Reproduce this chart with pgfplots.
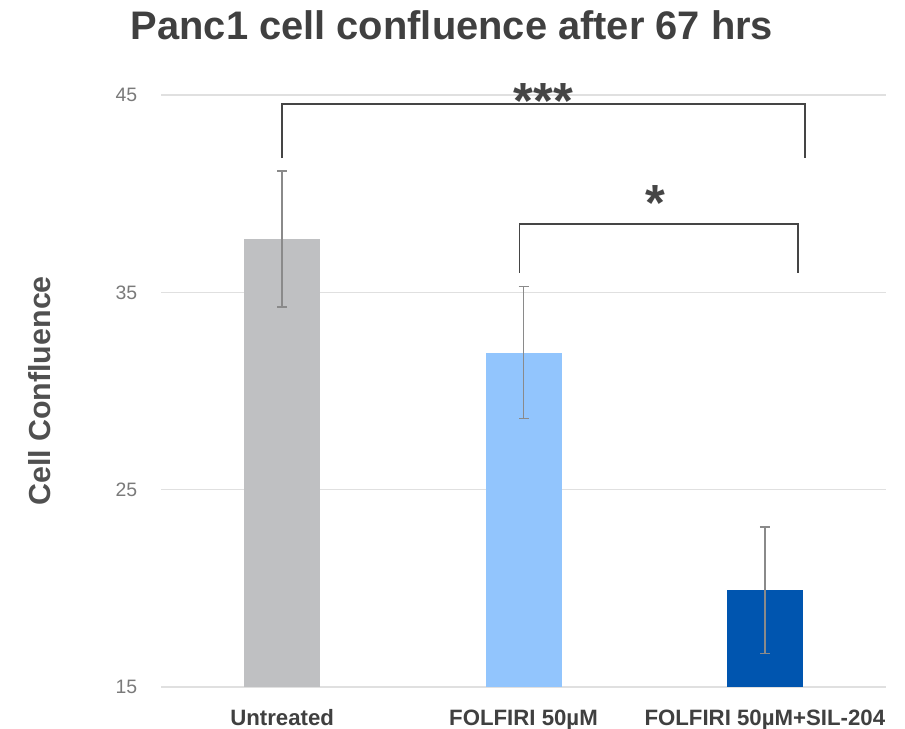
\documentclass[border=0pt]{standalone}
\usepackage{pgfplots}
\pgfplotsset{compat=1.18}
\usepackage{fontspec}
\setmainfont{Liberation Sans}
\definecolor{barGray}{HTML}{BFC0C2}
\definecolor{lightBlue}{HTML}{92C5FD}
\definecolor{darkBlue}{HTML}{0055AF}
\definecolor{gridc}{HTML}{E0E0E0}
\definecolor{tickc}{HTML}{7A7A7A}
\definecolor{titlec}{HTML}{404040}
\definecolor{ylabc}{HTML}{505050}
\definecolor{errc}{HTML}{8A8A8A}
\definecolor{brkc}{HTML}{454545}
\pgfplotsset{myerr/.style={error bars/.cd, y dir=both, y explicit, error mark=-,
  error bar style={draw=errc, line width=1.5bp},
  error mark options={draw=errc, line width=1.5bp, mark size=5bp, rotate=90}}}
\begin{document}
\begin{tikzpicture}
\useasboundingbox (-161.5bp,-42bp) rectangle (743.5bp,687bp);
\begin{axis}[
  scale only axis, width=724bp, height=592bp,
  xmin=-0.5, xmax=2.5, ymin=15, ymax=45,
  ytick={15,25,35,45},
  xtick={0,1,2},
  xticklabels={Untreated, FOLFIRI 50µM, FOLFIRI 50µM+SIL-204},
  ybar, bar width=76bp, bar shift=0pt,
  axis line style={draw=none},
  major tick length=0pt,
  ymajorgrids, grid style={color=gridc, line width=1.2bp},
  /pgf/number format/assume math mode=true,
  yticklabel style={font=\fontsize{19.5}{22}\selectfont, text=tickc, anchor=east, inner sep=0pt, xshift=-24bp},
  xticklabel style={font=\fontsize{22.3}{26}\selectfont\bfseries, text=titlec, anchor=base, inner sep=0pt, yshift=-38bp},
  ylabel={Cell Confluence},
  ylabel style={font=\fontsize{30.5}{34}\selectfont\bfseries, text=ylabc, at={(rel axis cs:0,0.5)}, anchor=center, rotate=0, yshift=121.5bp},
  title={Panc1 cell confluence after 67 hrs},
  title style={font=\fontsize{40}{46}\selectfont\bfseries, text=titlec, at={(rel axis cs:0.5,1)}, anchor=base, inner sep=0pt, yshift=50bp, xshift=-71.5bp},
]
\addplot[fill=barGray, draw=none, myerr]
  coordinates {(0,37.7) +- (0,3.45)};
\addplot[fill=lightBlue, draw=none, myerr]
  coordinates {(1,31.95) +- (0,3.35)};
\addplot[fill=darkBlue, draw=none, myerr]
  coordinates {(2,19.9) +- (0,3.2)};
\coordinate (p1) at (axis cs:0,41.8);
\coordinate (p2) at (axis cs:2.166,44.55);
\coordinate (p3) at (axis cs:2.166,41.8);
\coordinate (q1) at (axis cs:0.983,35.98);
\coordinate (q2) at (axis cs:2.137,38.47);
\coordinate (q3) at (axis cs:2.137,35.98);
\coordinate (s1) at (axis cs:1.083,43.8);
\coordinate (s2) at (axis cs:1.548,38.65);
\end{axis}
\draw[brkc, line width=1.6bp] (p1) |- (p2) -- (p3);
\draw[brkc, line width=1.6bp] (q1) |- (q2) -- (q3);
\node[anchor=base, inner sep=0pt, text=brkc, font=\fontsize{51}{56}\selectfont\bfseries] at (s1) {***};
\node[anchor=base, inner sep=0pt, text=brkc, font=\fontsize{51}{56}\selectfont\bfseries] at (s2) {*};
\end{tikzpicture}
\end{document}
